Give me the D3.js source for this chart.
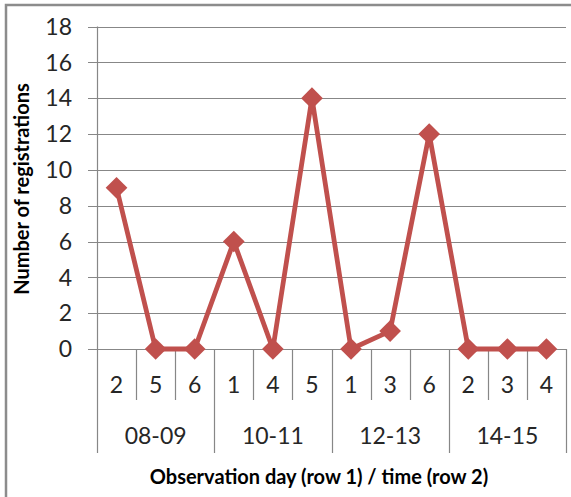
<!DOCTYPE html>
<html>
<head>
<meta charset="utf-8">
<script src="https://cdn.jsdelivr.net/npm/d3@7"></script>
<style>
  html, body { margin: 0; padding: 0; background: #fff; }
  svg { display: block; }
  text { font-family: Lato, "Open Sans", sans-serif; }
</style>
</head>
<body>
<svg id="chart" width="571" height="497"></svg>
<script>
// Observation days (outer axis row) and how many time slots each contains
const days = ["08-09", "10-11", "12-13", "14-15"];
const slotsPerDay = [3, 3, 3, 3];
// Observation time slots (inner axis row), one per point
const times = ["2", "5", "6", "1", "4", "5", "1", "3", "6", "2", "3", "4"];
// Number of registrations per time slot
const registrations = [9, 0, 0, 6, 0, 14, 0, 1, 12, 0, 0, 0];
// Value axis ticks
const yTicks = [0, 2, 4, 6, 8, 10, 12, 14, 16, 18];

const svg = d3.select("#chart");
const plotLeft = 97, plotRight = 566, plotTop = 26.5, plotBottom = 349;
const gridColor = "#878787";
const seriesColor = "#C0504D";
const labelColor = "#262626";

// Outer frame of the chart area
svg.append("rect")
  .attr("x", 6).attr("y", 5)
  .attr("width", 700).attr("height", 700)
  .attr("fill", "none")
  .attr("stroke", "#8c8c8c")
  .attr("stroke-width", 2.5);

const x = d3.scaleBand()
  .domain(d3.range(times.length))
  .range([plotLeft, plotRight])
  .paddingInner(0).paddingOuter(0);

const y = d3.scaleLinear().domain([0, 18]).range([plotBottom, plotTop]);

// Horizontal gridlines with outside tick marks
svg.append("g")
  .selectAll("line")
  .data(yTicks)
  .join("line")
  .attr("x1", plotLeft - 9).attr("x2", plotRight)
  .attr("y1", d => Math.round(y(d)) + 0.5)
  .attr("y2", d => Math.round(y(d)) + 0.5)
  .attr("stroke", gridColor)
  .attr("stroke-width", 1.2);

// Vertical value axis line
svg.append("line")
  .attr("x1", plotLeft + 0.5).attr("x2", plotLeft + 0.5)
  .attr("y1", plotTop).attr("y2", plotBottom)
  .attr("stroke", gridColor).attr("stroke-width", 1.2);

// Value axis labels
svg.append("g")
  .selectAll("text")
  .data(yTicks)
  .join("text")
  .attr("x", 72)
  .attr("y", d => y(d))
  .attr("dy", "0.36em")
  .attr("text-anchor", "end")
  .attr("font-size", 23)
  .attr("fill", labelColor)
  .text(d => d);

// Category axis: dividers between time slots, longer ones between days
const dayStart = [];
let acc = 0;
slotsPerDay.forEach(n => { dayStart.push(acc); acc += n; });
const dayBounds = new Set([...dayStart, times.length]);
const edge = i => (i < times.length ? x(i) : plotRight);

svg.append("g")
  .selectAll("line")
  .data(d3.range(times.length + 1))
  .join("line")
  .attr("x1", i => Math.round(edge(i)) + 0.5)
  .attr("x2", i => Math.round(edge(i)) + 0.5)
  .attr("y1", plotBottom)
  .attr("y2", i => dayBounds.has(i) ? 453 : 400)
  .attr("stroke", gridColor)
  .attr("stroke-width", 1.2);

// Time slot labels
svg.append("g")
  .selectAll("text")
  .data(times)
  .join("text")
  .attr("x", (d, i) => x(i) + x.bandwidth() / 2)
  .attr("y", 393)
  .attr("text-anchor", "middle")
  .attr("font-size", 23)
  .attr("fill", labelColor)
  .text(d => d);

// Day labels centred under their slots
svg.append("g")
  .selectAll("text")
  .data(days)
  .join("text")
  .attr("x", (d, i) => (edge(dayStart[i]) + edge(dayStart[i] + slotsPerDay[i])) / 2)
  .attr("y", 444)
  .attr("text-anchor", "middle")
  .attr("font-size", 23)
  .attr("fill", labelColor)
  .text(d => d);

// Series line
const line = d3.line()
  .x((d, i) => x(i) + x.bandwidth() / 2)
  .y(d => y(d));

svg.append("path")
  .datum(registrations)
  .attr("d", line)
  .attr("fill", "none")
  .attr("stroke", seriesColor)
  .attr("stroke-width", 4.8)
  .attr("stroke-linejoin", "round");

// Diamond markers
const diamond = d3.symbol().type(d3.symbolSquare).size(235);
svg.append("g")
  .selectAll("path")
  .data(registrations)
  .join("path")
  .attr("d", diamond)
  .attr("transform", (d, i) => `translate(${x(i) + x.bandwidth() / 2},${y(d)}) rotate(45)`)
  .attr("fill", seriesColor);

// Axis titles
svg.append("text")
  .attr("x", 319).attr("y", 484)
  .attr("text-anchor", "middle")
  .attr("font-size", 20)
  .attr("font-weight", "bold")
  .attr("fill", "#000")
  .text("Observation day (row 1) / time (row 2)");

svg.append("text")
  .attr("transform", `translate(29,189) rotate(-90)`)
  .attr("text-anchor", "middle")
  .attr("font-size", 20)
  .attr("font-weight", "bold")
  .attr("fill", "#000")
  .text("Number of registrations");
</script>
</body>
</html>
